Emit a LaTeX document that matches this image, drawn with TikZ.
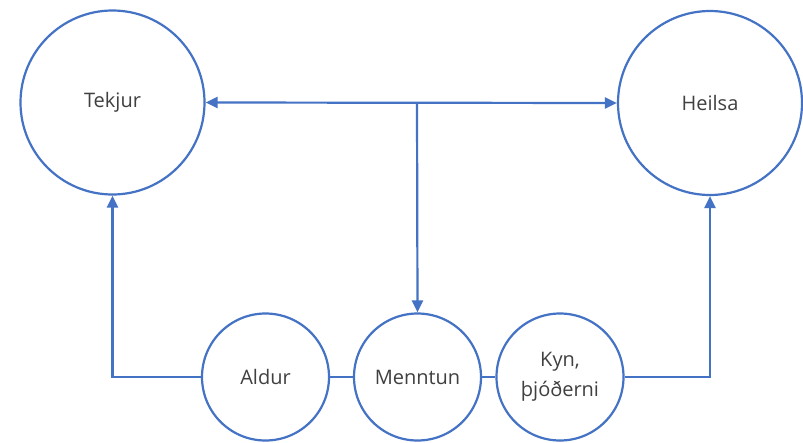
\documentclass[tikz,border=0pt]{standalone}
\usepackage{fontspec}
\setmainfont{Open Sans}
\usetikzlibrary{arrows.meta}
\definecolor{lineblue}{HTML}{4472C4}
\definecolor{txtgray}{HTML}{404040}
\begin{document}
\begin{tikzpicture}[x=1pt,y=-1pt,
  circ/.style={circle,draw=lineblue,line width=2.2pt,fill=white,inner sep=0pt,
    text=txtgray,font=\fontsize{20}{30}\selectfont,align=center},
  conn/.style={draw=lineblue,line width=2.2pt},
  tip/.style={-{Triangle[length=12pt,width=11pt]}}]
\useasboundingbox (0,0) rectangle (803,442);
\fill[white] (0,0) rectangle (803,442);
\node[circ,minimum size=184pt] (tek) at (112.5,102.5) {Tekjur};
\node[circ,minimum size=184pt] (hei) at (710,103) {Heilsa};
\node[circ,minimum size=127pt] (ald) at (265.5,377) {Aldur};
\node[circ,minimum size=127pt] (men) at (417.5,377) {Menntun};
\node[circ,minimum size=127pt] (kyn) at (560,377) {Kyn,\\þjóðerni};
\coordinate (j) at (417,102.5);
\draw[conn,{Triangle[length=12pt,width=11pt]}-{Triangle[length=12pt,width=11pt]}] (tek.east) -- (hei.west);
\draw[conn,tip] (j) -- (men.north);
\draw[conn] (ald) -- (men) -- (kyn);
\draw[conn,tip] (ald.west) -| (tek.south);
\draw[conn,tip] (kyn.east) -| (hei.south);
\end{tikzpicture}
\end{document}
